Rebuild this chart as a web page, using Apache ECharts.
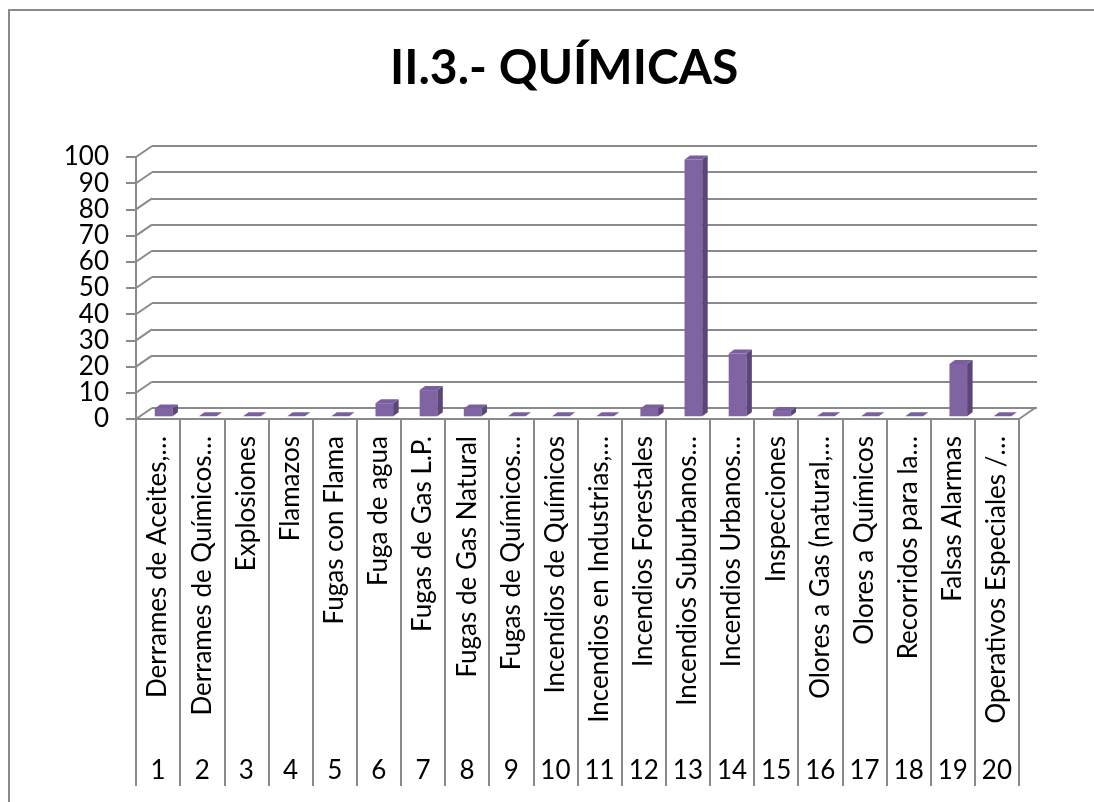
<!DOCTYPE html>
<html>
<head>
<meta charset="utf-8">
<script src="https://cdn.jsdelivr.net/npm/echarts@6/dist/echarts.min.js"></script>
<style>html,body{margin:0;padding:0;background:#fff;}#c{width:1094px;height:802px;}</style>
</head>
<body>
<div id="c"></div>
<script>
const titleText = 'II.3.- QUÍMICAS';
const categories = [
  'Derrames de Aceites,…', 'Derrames de Químicos…', 'Explosiones', 'Flamazos',
  'Fugas con Flama', 'Fuga de agua', 'Fugas de Gas L.P.', 'Fugas de Gas Natural',
  'Fugas de Químicos…', 'Incendios de Químicos', 'Incendios en Industrias,…',
  'Incendios Forestales', 'Incendios Suburbanos…', 'Incendios Urbanos…',
  'Inspecciones', 'Olores a Gas (natural,…', 'Olores a Químicos',
  'Recorridos para la…', 'Falsas Alarmas', 'Operativos Especiales /…'
];
const numbers = ['1','2','3','4','5','6','7','8','9','10','11','12','13','14','15','16','17','18','19','20'];
const values = [3, 0, 0, 0, 0, 5, 10, 3, 0, 0, 0, 3, 98, 24, 2, 0, 0, 0, 20, 0];
const yTicks = [0, 10, 20, 30, 40, 50, 60, 70, 80, 90, 100];

const GRAY = '#8a8a8a';
const FONT = 'Lato';
const DX = 16, DY = -11;

const chart = echarts.init(document.getElementById('c'), null, {renderer: 'canvas'});

const option = {
  backgroundColor: '#fff',
  animation: false,
  title: {
    text: titleText,
    left: 385, top: 40,
    textStyle: {fontFamily: FONT, fontWeight: 'bold', fontSize: 48, color: '#000'}
  },
  graphic: [{
    type: 'rect', silent: true, z: -10,
    shape: {x: 9, y: 10, width: 1200, height: 900},
    style: {fill: 'none', stroke: '#8a8a8a', lineWidth: 2}
  }],
  grid: [
    {left: 136, right: 75, top: 157, bottom: 383},
    {left: 152, right: 57, top: 146, bottom: 394}
  ],
  xAxis: [
    {
      type: 'category', gridIndex: 0, data: categories,
      axisLine: {show: true, lineStyle: {color: GRAY, width: 2}},
      axisTick: {show: true, length: 367, interval: 0, lineStyle: {color: GRAY, width: 2}},
      axisLabel: {interval: 0, rotate: 90, margin: 17, color: '#000', fontFamily: FONT, fontSize: 26}
    },
    {
      type: 'category', gridIndex: 0, data: numbers, position: 'bottom', offset: 331,
      axisLine: {show: false}, axisTick: {show: false},
      axisLabel: {interval: 0, color: '#000', fontFamily: FONT, fontSize: 26, margin: 8}
    },
    {
      type: 'category', gridIndex: 1, data: categories, show: false
    }
  ],
  yAxis: [
    {
      type: 'value', gridIndex: 0, min: 0, max: 100, interval: 10,
      axisLine: {show: true, lineStyle: {color: GRAY, width: 2}},
      axisTick: {show: true, length: 10, lineStyle: {color: GRAY, width: 2}},
      splitLine: {show: false},
      axisLabel: {color: '#000', fontFamily: FONT, fontSize: 26, margin: 27}
    },
    {
      type: 'value', gridIndex: 1, min: 0, max: 100, interval: 10,
      axisLine: {show: false}, axisTick: {show: false}, axisLabel: {show: false},
      splitLine: {show: true, lineStyle: {color: GRAY, width: 2}}
    }
  ],
  series: [
    {
      type: 'custom', xAxisIndex: 0, yAxisIndex: 0, z: 1,
      data: yTicks.map(v => [0, v]),
      renderItem: function (params, api) {
        const p = api.coord([0, api.value(1)]);
        const band = api.size([1, 0])[0];
        const left = p[0] - band / 2;
        const children = [{
          type: 'line',
          shape: {x1: left, y1: p[1], x2: left + DX, y2: p[1] + DY},
          style: {stroke: GRAY, lineWidth: 2}
        }];
        if (api.value(1) === 0) {
          const q = api.coord([categories.length - 1, 0]);
          const right = q[0] + band / 2;
          children.push({
            type: 'line',
            shape: {x1: right, y1: q[1], x2: right + DX, y2: q[1] + DY},
            style: {stroke: GRAY, lineWidth: 2}
          });
        }
        return {type: 'group', children: children};
      }
    },
    {
      type: 'custom', xAxisIndex: 0, yAxisIndex: 0, z: 5,
      data: values.map((v, i) => [i, v]),
      renderItem: function (params, api) {
        const c = api.coord([api.value(0), api.value(1)]);
        const b = api.coord([api.value(0), 0]);
        const band = api.size([1, 0])[0];
        const w = band * 0.4;
        const sx = 5.5, sy = -2.7, dx = 5.5, dy = -4;
        const x0 = c[0] - w / 2 + sx, x1 = x0 + w;
        const yt = c[1] + sy, yb = b[1] + sy;
        const kids = [];
        if (yb - yt > 0.5) {
          kids.push({type: 'rect', shape: {x: x0, y: yt, width: w, height: yb - yt},
            style: {fill: '#8064a2'}});
          kids.push({type: 'polygon', shape: {points: [[x1, yb], [x1, yt], [x1 + dx, yt + dy], [x1 + dx, yb + dy]]},
            style: {fill: '#5b4677'}});
        }
        kids.push({type: 'polygon', shape: {points: [[x0, yt], [x1, yt], [x1 + dx, yt + dy], [x0 + dx, yt + dy]]},
          style: {fill: '#7a5fa0'}});
        return {type: 'group', children: kids};
      }
    }
  ]
};
chart.setOption(option);
</script>
</body>
</html>
